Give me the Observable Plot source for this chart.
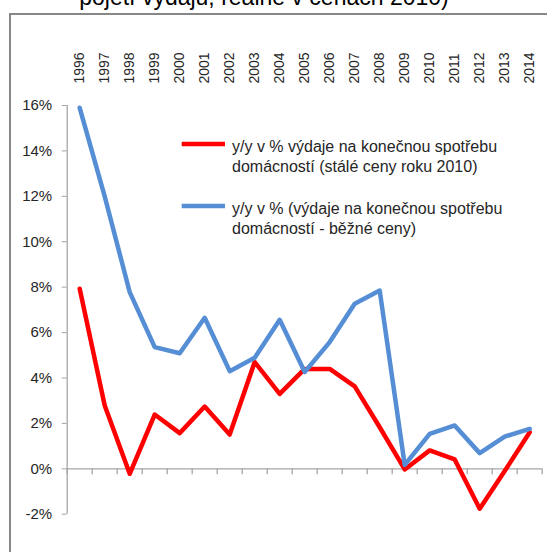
<!DOCTYPE html>
<html><head><meta charset="utf-8">
<script src="https://cdn.jsdelivr.net/npm/d3@7"></script>
<script src="https://cdn.jsdelivr.net/npm/@observablehq/plot@0.6"></script>
<style>
body{margin:0;background:#fff}
#chart{width:547px;height:552px;overflow:hidden;position:relative}
</style>
</head><body><div id="chart"></div>
<script>
const years = [1996,1997,1998,1999,2000,2001,2002,2003,2004,2005,2006,2007,2008,2009,2010,2011,2012,2013,2014];
const realValues = [7.93,2.79,-0.22,2.39,1.57,2.74,1.51,4.70,3.30,4.40,4.40,3.63,1.83,-0.03,0.81,0.41,-1.76,-0.10,1.61];
const nominalValues = [15.9,12.0,7.78,5.36,5.09,6.65,4.30,4.89,6.56,4.26,5.58,7.27,7.85,0.17,1.54,1.91,0.69,1.42,1.76];
const yTicks = [-2,0,2,4,6,8,10,12,14,16];
const titleText = "pojetí výdajů, reálně v cenách 2010)";
const seriesNames = [
  ["y/y v % výdaje na konečnou spotřebu", "domácností (stálé ceny roku 2010)"],
  ["y/y v % (výdaje na konečnou spotřebu", "domácností - běžné ceny)"]
];
const seriesColors = ["#ff0000", "#558ed5"];

const realData = years.map((year, i) => ({year, value: realValues[i]}));
const nominalData = years.map((year, i) => ({year, value: nominalValues[i]}));
const x0 = years[0] - 0.5, x1 = years[years.length - 1] + 0.5;
const boundaries = [...years.map(y => y - 0.5), x1];
const axisColor = "#a6a6a6";
const textColor = "#262626";

const plot = Plot.plot({
  width: 547, height: 552,
  marginTop: 105, marginLeft: 66.7, marginRight: 5.3, marginBottom: 38.3,
  x: {type: "linear", domain: [x0, x1], axis: null},
  y: {domain: [-2, 16], axis: null},
  style: {fontFamily: "'Liberation Sans', Arial, sans-serif", background: "#fff", overflow: "visible"},
  marks: [
    Plot.ruleX([x0], {y1: -2, y2: 16, stroke: axisColor, strokeWidth: 1.3}),
    Plot.axisY({ticks: yTicks, tickFormat: d => d + "%", tickSize: 5, tickPadding: 10, fontSize: 15, stroke: axisColor, fill: textColor, label: null}),
    Plot.ruleY([0], {x1: x0, x2: x1, stroke: axisColor, strokeWidth: 1.3}),
    Plot.ruleX(boundaries, {x: d => d, y1: 0, y2: 0, insetBottom: -6, stroke: axisColor, strokeWidth: 1.3}),
    Plot.text(years, {x: d => d, text: d => String(d), frameAnchor: "top", dy: -22, rotate: -90, textAnchor: "start", lineAnchor: "middle", fontSize: 14, fill: textColor}),
    Plot.line(realData, {x: "year", y: "value", stroke: seriesColors[0], strokeWidth: 4.5, strokeLinejoin: "round"}),
    Plot.line(nominalData, {x: "year", y: "value", stroke: seriesColors[1], strokeWidth: 4.5, strokeLinejoin: "round"})
  ]
});

const svg = d3.select(plot);
svg.append("path").attr("d", "M10,552V14H547").attr("fill", "none").attr("stroke", "#878787").attr("stroke-width", 2);
svg.append("text").attr("x", 264).attr("y", 5).attr("text-anchor", "middle")
  .attr("font-size", 23).attr("fill", "#000").text(titleText);

const legendY = [144, 206];
seriesNames.forEach((lines, k) => {
  svg.append("line").attr("x1", 181.7).attr("x2", 225).attr("y1", legendY[k]).attr("y2", legendY[k])
    .attr("stroke", seriesColors[k]).attr("stroke-width", 4.5);
  const t = svg.append("text").attr("x", 232).attr("y", legendY[k] + 7.5)
    .attr("text-anchor", "start").attr("font-size", 16).attr("fill", textColor);
  lines.forEach((ln, j) => t.append("tspan").attr("x", 232).attr("dy", j === 0 ? 0 : 20).text(ln));
});

document.getElementById("chart").appendChild(plot);
</script>
</body></html>
